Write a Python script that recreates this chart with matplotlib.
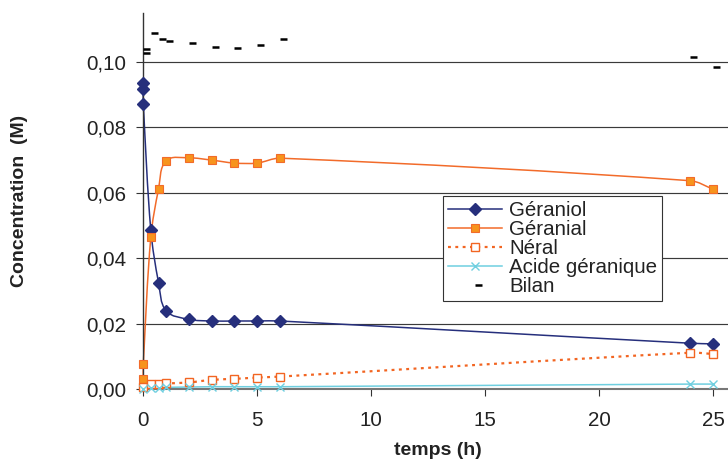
import numpy as np
import matplotlib
matplotlib.use("Agg")
import matplotlib.pyplot as plt
from matplotlib.path import Path
from matplotlib.patches import PathPatch
from matplotlib.lines import Line2D
from matplotlib.ticker import FuncFormatter

plt.rcParams['font.family'] = ['Liberation Sans', 'DejaVu Sans']

# --- data ---
t_geraniol = [0, 0, 0, 0.33, 0.67, 1, 2, 3, 4, 5, 6, 24, 25]
geraniol = [0.0937, 0.0917, 0.0872, 0.0485, 0.0325, 0.0239, 0.0213,
            0.0208, 0.0208, 0.0208, 0.0208, 0.0140, 0.0138]

t_geranial = [0, 0, 0.33, 0.67, 1, 2, 3, 4, 5, 6, 24, 25]
geranial = [0.0030, 0.0076, 0.0465, 0.0612, 0.0698, 0.0707, 0.0700,
            0.0691, 0.0691, 0.0706, 0.0637, 0.0611]

t_neral = [0, 0.33, 0.67, 1, 2, 3, 4, 5, 6, 24, 25]
neral = [0.0005, 0.0014, 0.0016, 0.0017, 0.0020, 0.0028, 0.0031,
         0.0035, 0.0038, 0.0111, 0.0107]

t_acide = [0, 0.33, 0.67, 1, 2, 3, 4, 5, 6, 24, 25]
acide = [0.0000, 0.0003, 0.0004, 0.0005, 0.0006, 0.0007, 0.0007,
         0.0007, 0.0007, 0.0015, 0.0015]

t_bilan = [0, 0, 0.33, 0.67, 1, 2, 3, 4, 5, 6, 24, 25]
bilan = [0.1039, 0.1027, 0.1089, 0.1069, 0.1065, 0.1058, 0.1047,
         0.1042, 0.1051, 0.1069, 0.1015, 0.0985]

y_ticks = [0.00, 0.02, 0.04, 0.06, 0.08, 0.10]
x_ticks = [0, 5, 10, 15, 20, 25]

W, H = 728, 459
x0, y0, y1 = 143.3, 389, 13
XMAX, YMAX = 25.645, 0.115
# pixels per data unit, used so the smoothing behaves like on screen
SCALE = np.array([(W - x0) / XMAX, (y0 - y1) / YMAX])


def smooth_path(xs, ys):
    """Excel-like smoothed line: cubic bezier through the points"""
    q = np.column_stack([xs, ys]).astype(float) * SCALE
    n = len(q)
    dirs = []
    for i in range(n):
        a = q[max(i - 1, 0)]
        b = q[min(i + 1, n - 1)]
        d = b - a
        norm = np.hypot(*d)
        dirs.append(d / norm if norm > 0 else np.zeros(2))
    verts = [q[0]]
    codes = [Path.MOVETO]
    for i in range(n - 1):
        seg = np.hypot(*(q[i + 1] - q[i])) / 3
        verts += [q[i] + dirs[i] * seg, q[i + 1] - dirs[i + 1] * seg, q[i + 1]]
        codes += [Path.CURVE4] * 3
    return Path(np.array(verts) / SCALE, codes)


fig = plt.figure(figsize=(W / 100, H / 100), dpi=100)
ax = fig.add_axes([x0 / W, (H - y0) / H, (W - x0) / W, (y0 - y1) / H])
ax.set_xlim(0, XMAX)
ax.set_ylim(0, YMAX)

ax.set_yticks(y_ticks)
ax.set_xticks(x_ticks)
ax.yaxis.set_major_formatter(FuncFormatter(lambda v, p: f"{v:.2f}".replace('.', ',')))
ax.grid(axis='y', color='#3a3a3a', lw=0.85)
ax.set_axisbelow(True)
for s in ['top', 'right']:
    ax.spines[s].set_visible(False)
ax.spines['left'].set_color('#333333')
ax.spines['left'].set_linewidth(1.0)
ax.spines['bottom'].set_color('#777777')
ax.spines['bottom'].set_linewidth(1.5)
ax.tick_params(axis='both', direction='out', length=5, width=0.8, color='#333333',
               labelsize=14.8, labelcolor='#222222')
ax.tick_params(axis='y', pad=7.5)
ax.tick_params(axis='x', pad=10.5)

# series styles
c_gol = '#262f7c'
c_gal = '#f26b2a'
c_ner = '#f26522'
c_aci = '#6fcfe0'
bilan_marker = [(0, 0), (1, 0)]

series = [
    (t_geraniol, geraniol, dict(color=c_gol, lw=1.1, ls='-'),
     dict(marker='D', ms=6.2, mfc=c_gol, mec=c_gol)),
    (t_geranial, geranial, dict(color=c_gal, lw=1.1, ls='-'),
     dict(marker='s', ms=5.8, mfc='#f7941d', mec=c_gal, mew=0.8)),
    (t_neral, neral, dict(color=c_ner, lw=1.6, ls=(0, (1.3, 2.0))),
     dict(marker='s', ms=5.8, mfc='white', mec=c_ner, mew=1.0)),
    (t_acide, acide, dict(color=c_aci, lw=1.1, ls='-'),
     dict(marker='x', ms=6, mfc=c_aci, mec=c_aci, mew=1.0)),
]

for xs, ys, lst, mst in series:
    patch = PathPatch(smooth_path(xs, ys), fill=False, edgecolor=lst['color'],
                      lw=lst['lw'], linestyle=lst['ls'], clip_on=False, zorder=2)
    ax.add_patch(patch)
    ax.plot(xs, ys, ls='none', clip_on=False, zorder=3, **mst)

ax.plot(t_bilan, bilan, ls='none', marker=bilan_marker, ms=9.5, mec='black',
        mew=1.8, clip_on=False, zorder=3)

# legend
handles = [
    Line2D([], [], color=c_gol, lw=1.1, marker='D', ms=6.2, mfc=c_gol, mec=c_gol),
    Line2D([], [], color=c_gal, lw=1.1, marker='s', ms=5.8, mfc='#f7941d', mec=c_gal, mew=0.8),
    Line2D([], [], color=c_ner, lw=1.6, ls=(0, (1.3, 2.0)), marker='s', ms=5.8,
           mfc='white', mec=c_ner, mew=1.0),
    Line2D([], [], color=c_aci, lw=1.1, marker='x', ms=6, mec=c_aci, mew=1.0),
    Line2D([], [], ls='none', marker=bilan_marker, ms=9.5, mec='black', mew=1.8),
]
labels = ['Géraniol', 'Géranial', 'Néral', 'Acide géranique', 'Bilan']
leg = ax.legend(handles, labels, loc='upper left',
                bbox_to_anchor=(443.3 / W, 1 - 195.7 / H), bbox_transform=fig.transFigure,
                borderaxespad=0, fontsize=14.8, frameon=True, fancybox=False,
                edgecolor='#333333', framealpha=1, borderpad=0.25,
                handlelength=2.6, handletextpad=0.35, labelspacing=0.0)
leg.get_frame().set_linewidth(0.8)
for txt in leg.get_texts():
    txt.set_color('#222222')

fig.text(20 / W, 1 - 201 / H, 'Concentration  (M)', rotation=90, ha='center', va='center',
         fontsize=14, fontweight='bold', color='#222222')
fig.text(438 / W, 1 - 442 / H, 'temps (h)', ha='center', va='top',
         fontsize=14, fontweight='bold', color='#222222')

fig.savefig('out.png', dpi=100)
